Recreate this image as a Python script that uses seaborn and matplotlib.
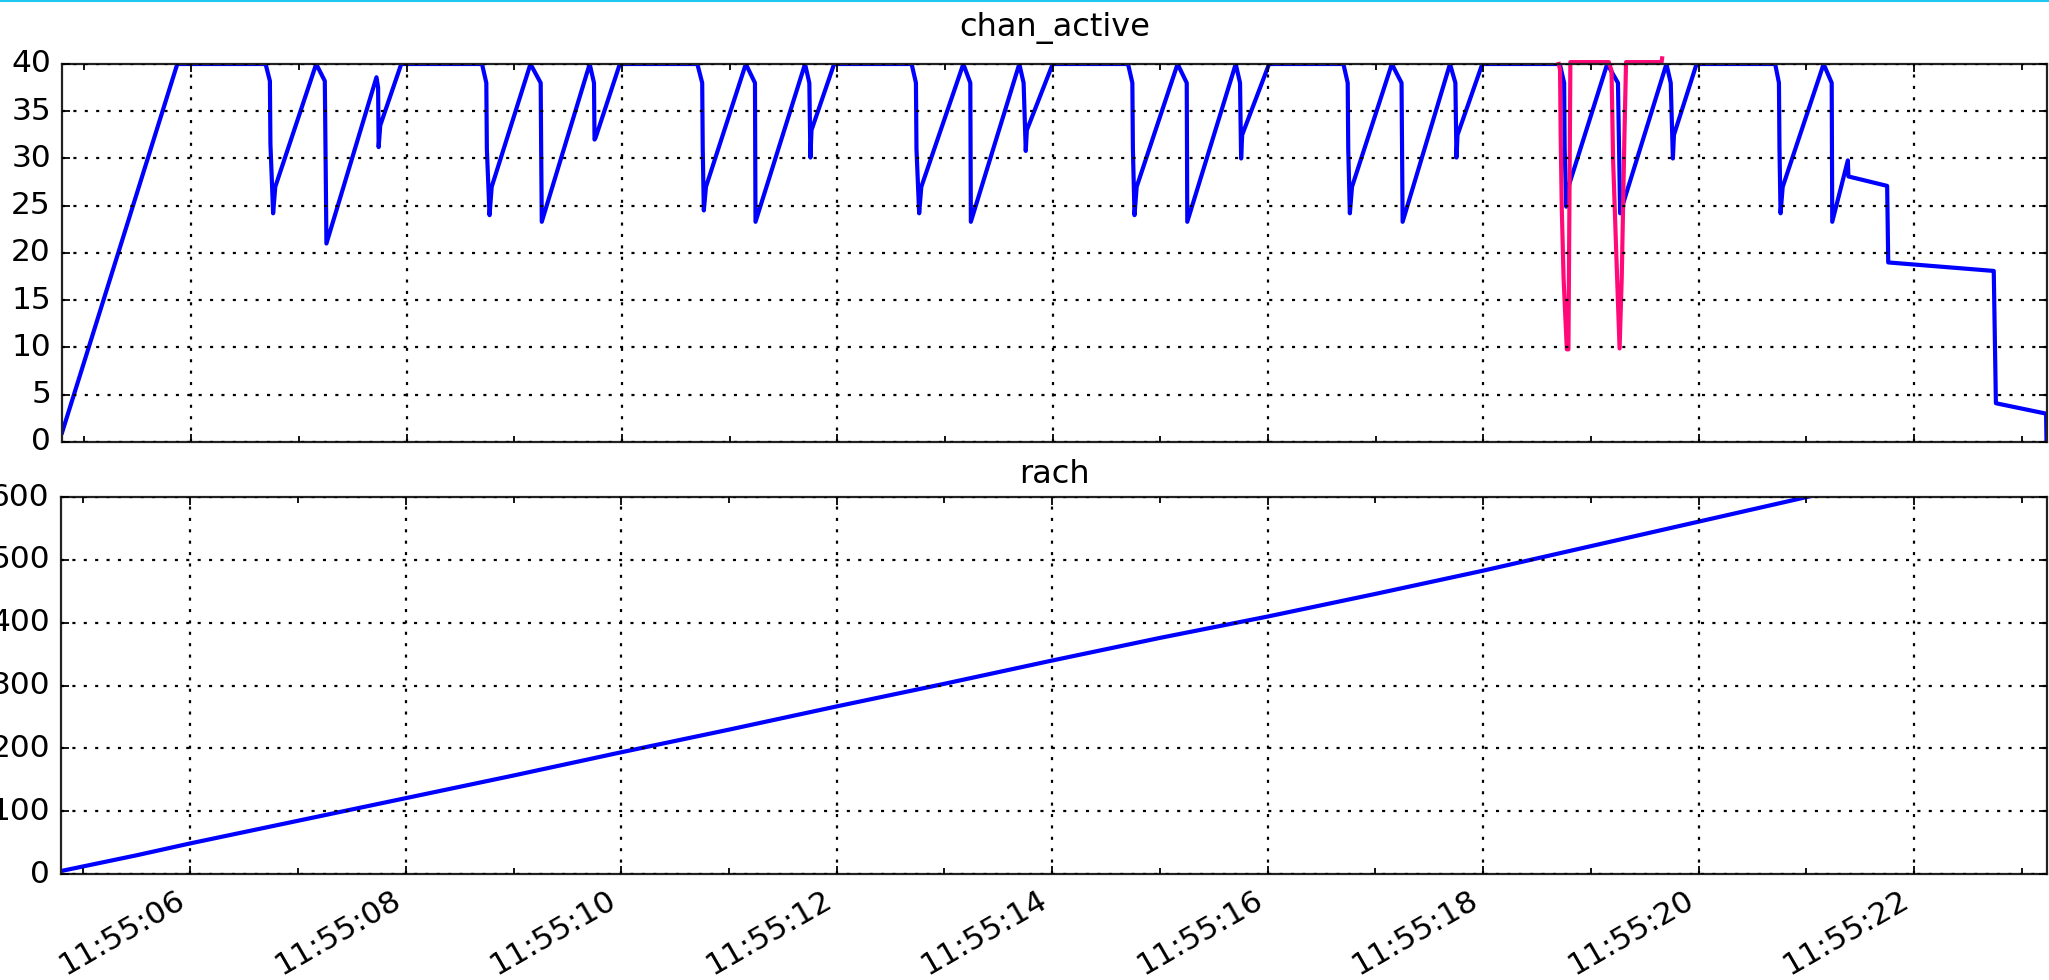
import numpy as np
import pandas as pd
import seaborn as sns
import matplotlib
matplotlib.use('Agg')
import matplotlib.pyplot as plt
import matplotlib.dates as mdates
from matplotlib.lines import Line2D

# old matplotlib look
plt.style.use('classic')
plt.rcParams['font.family'] = ['DejaVu Sans']
plt.rcParams['font.size'] = 22.5
plt.rcParams['lines.scale_dashes'] = False

# DATA (seconds after 11:55:00)
chan_sec = [4.80, 5.87, 6.69, 6.73, 6.735, 6.76, 6.78, 7.16, 7.24, 7.25, 7.255,
            7.72, 7.735, 7.74, 7.755, 7.95,
            8.70, 8.74, 8.745, 8.77, 8.79, 9.15, 9.245, 9.25, 9.255,
            9.70, 9.74, 9.745, 9.755, 9.98,
            10.70, 10.745, 10.75, 10.76, 10.78, 11.15, 11.235, 11.24,
            11.70, 11.74, 11.75, 11.76, 11.97,
            12.69, 12.73, 12.735, 12.76, 12.78, 13.17, 13.235, 13.24,
            13.69, 13.73, 13.75, 13.76, 14.00,
            14.70, 14.74, 14.745, 14.76, 14.78, 15.16, 15.245, 15.25,
            15.70, 15.74, 15.75, 15.76, 16.01,
            16.70, 16.74, 16.745, 16.76, 16.78, 17.15, 17.24, 17.25,
            17.69, 17.74, 17.75, 17.76, 17.99,
            18.71, 18.75, 18.755, 18.77, 18.79, 19.15, 19.25, 19.27,
            19.70, 19.74, 19.76, 19.77, 19.98,
            20.71, 20.745, 20.75, 20.76, 20.78, 21.16, 21.235, 21.24,
            21.385, 21.39, 21.75, 21.76, 22.74, 22.76, 23.226, 23.230]
chan_val = [1.0, 40, 40, 38.2, 31.5, 24.2, 27.0, 40, 38.2, 27.0, 21.0,
            38.6, 37.5, 31.2, 33.5, 40,
            40, 38, 31, 24, 27, 40, 38, 30, 23.3,
            40, 38, 32, 32.2, 40,
            40, 38, 31, 24.5, 27, 40, 38, 23.3,
            40, 38, 30.1, 33, 40,
            40, 38, 31, 24.2, 27, 40, 38, 23.3,
            40, 38, 30.8, 33, 40,
            40, 38, 31, 24, 27, 40, 38, 23.3,
            40, 38, 30, 32.5, 40,
            40, 38, 31, 24.2, 27, 40, 38, 23.3,
            40, 38, 30.1, 32.5, 40,
            40, 38, 31, 24.9, 27, 40, 38, 24.2,
            40, 38, 30, 32.5, 40,
            40, 38, 31, 24.2, 27, 40, 38, 23.3,
            29.8, 28.1, 27.1, 19.0, 18.1, 4.1, 3.0, 0.0]

pink_sec = [18.700, 18.712, 18.718, 18.728, 18.745, 18.775, 18.790, 18.808,
            19.165, 19.19, 19.205, 19.235, 19.265, 19.285, 19.31, 19.325,
            19.655, 19.66]
pink_val = [40.0, 39.4, 32.3, 24.8, 17.3, 9.8, 9.8, 40.2,
            40.2, 39.3, 29.8, 19.7, 9.9, 17.4, 32.4, 40.2,
            40.2, 40.6]

rach_sec = [4.80, 5.5, 6.0, 7.0, 8.0, 9.0, 10.0, 11.0, 12.0, 13.0, 14.0,
            15.0, 16.0, 17.0, 18.0, 19.0, 20.0, 21.0, 22.0, 23.0, 23.236]
rach_val = [5, 30, 49, 85, 121, 157, 194, 230, 267, 303, 340,
            376, 410, 446, 483, 522, 561, 600, 638, 676, 685]

base = pd.Timestamp('2016-01-01 11:55:00')
def to_time(sec):
    return base + pd.to_timedelta(np.array(sec), unit='s')

chan = pd.DataFrame({'time': to_time(chan_sec), 'value': chan_val})
pink = pd.DataFrame({'time': to_time(pink_sec), 'value': pink_val})
rach = pd.DataFrame({'time': to_time(rach_sec), 'value': rach_val})

fig = plt.figure(figsize=(20.49, 9.8), dpi=100, facecolor='white')
ax1 = fig.add_axes([0.0303, 0.549, 0.9688, 0.3857])
ax2 = fig.add_axes([0.0298, 0.108, 0.9693, 0.3847], sharex=ax1)

sns.lineplot(data=chan, x='time', y='value', ax=ax1, color='#0000ff', lw=3.0,
             estimator=None, sort=False)
sns.lineplot(data=pink, x='time', y='value', ax=ax1, color='#ff0a78', lw=3.0,
             estimator=None, sort=False)
ax1.lines[-1].set_clip_on(False)
sns.lineplot(data=rach, x='time', y='value', ax=ax2, color='#0000ff', lw=3.0,
             estimator=None, sort=False)

ax1.set_ylim(0, 40)
ax1.set_yticks(range(0, 41, 5))
ax2.set_ylim(0, 600)
ax2.set_yticks(range(0, 601, 100))
ax1.set_xlim(to_time([4.80])[0], to_time([23.236])[0])

for ax, name, tpad in [(ax1, 'chan_active', 20), (ax2, 'rach', 10)]:
    ax.xaxis.set_major_locator(mdates.SecondLocator(bysecond=range(0, 60, 2)))
    ax.xaxis.set_minor_locator(mdates.SecondLocator())
    ax.xaxis.set_major_formatter(mdates.DateFormatter('%H:%M:%S'))
    ax.grid(True, which='major', color='k', linestyle=(0, (2.2, 6)), linewidth=1.6)
    ax.tick_params(which='both', direction='in', top=True, right=True,
                   width=1.3, pad=8, labelsize=22.5)
    ax.tick_params(which='major', length=6)
    ax.tick_params(which='minor', length=4)
    ax.set_xlabel('')
    ax.set_ylabel('')
    for s in ax.spines.values():
        s.set_linewidth(1.6)
        s.set_color('#222222')
    ax.set_title(name, fontsize=23, pad=tpad)

ax1.tick_params(labelbottom=False)
for lab in ax2.get_xticklabels():
    lab.set_rotation(30)
    lab.set_ha('right')

fig.add_artist(Line2D([0, 1], [0.9992, 0.9992], transform=fig.transFigure,
                      color='#1ec8f0', lw=1.5))

fig.savefig('out.png', dpi=100, facecolor='white')
